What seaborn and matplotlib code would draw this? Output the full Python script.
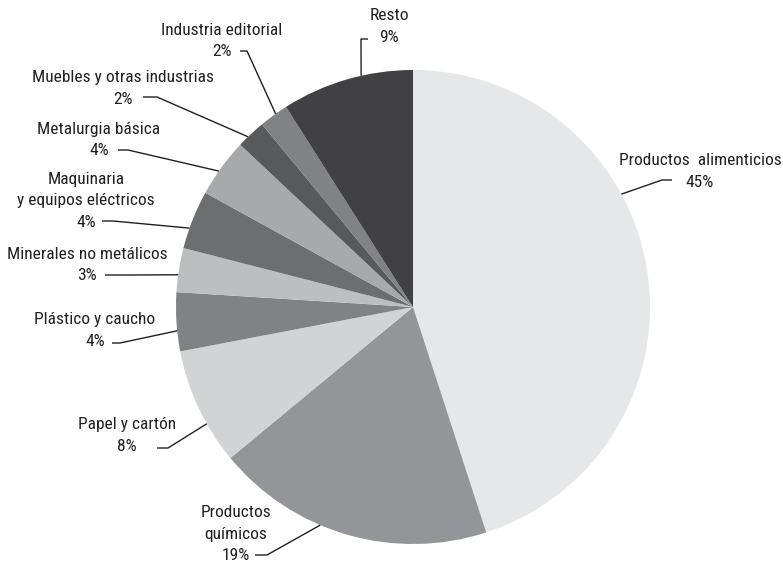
import numpy as np
import matplotlib
matplotlib.use("Agg")
import matplotlib.pyplot as plt
from matplotlib import font_manager
import seaborn as sns

# data
sectores = [
    "Productos  alimenticios",
    "Productos\nquímicos",
    "Papel y cartón",
    "Plástico y caucho",
    "Minerales no metálicos",
    "Maquinaria\ny equipos eléctricos",
    "Metalurgia básica",
    "Muebles y otras industrias",
    "Industria editorial",
    "Resto",
]
porcentajes = [45, 19, 8, 4, 3, 4, 4, 2, 2, 9]
colores = ["#e6e7e8", "#939598", "#d1d3d4", "#808285", "#bcbec0",
           "#6d6e71", "#a7a9ac", "#58595b", "#808285", "#414042"]

# layout (pixel coords of the picture, y from top)
W, H = 783, 565
centro = (413, 307)
radio = 237
texto_pos = [(700, 171.5), (236, 534), (127, 435.5), (95, 330.5), (87, 265),
             (86, 201), (99, 140), (123, 88.5), (222, 41), (389, 26.5)]
# fraction along each wedge where the leader touches the rim
ancla_frac = [0.62, 0.40, 0.65, 0.65, 0.61, 0.65, 0.57, 0.625, 0.42, 0.39]
codo = [(662, 180), (267, 555), (168, 448), (120, 343), (130, 275),
        (113, 221), (128, 150), (157, 97), (247, 51), (361, 39)]
fin = [(672, 180), (255, 555), (157, 448), (112, 343), (105, 275),
       (102, 221), (118, 150), (143, 97), (240, 51), (368, 39)]

sns.set_theme(style="white")
disponibles = {f.name for f in font_manager.fontManager.ttflist}
familia = next((f for f in ["Liberation Sans Narrow", "Roboto Condensed", "Roboto"]
                if f in disponibles), "DejaVu Sans")
plt.rcParams["font.family"] = [familia, "DejaVu Sans"]

fig = plt.figure(figsize=(W / 100, H / 100), dpi=100)
ax = fig.add_axes([0, 0, 1, 1])

wedges, _ = ax.pie(
    porcentajes,
    colors=colores,
    startangle=90,
    counterclock=False,
    center=(centro[0], H - centro[1]),
    radius=radio,
    wedgeprops=dict(linewidth=0),
)

for w, nombre, pct, (tx, ty), f, (kx, ky), (ex, ey) in zip(
        wedges, sectores, porcentajes, texto_pos, ancla_frac, codo, fin):
    ang = np.deg2rad(w.theta1 + f * (w.theta2 - w.theta1))
    ax_ = centro[0] + radio * np.cos(ang)
    ay_ = (H - centro[1]) + radio * np.sin(ang)
    ax.plot([ax_, kx, ex], [ay_, H - ky, H - ey], color="#231f20", lw=1.0,
            solid_capstyle="butt")
    ax.text(tx, H - ty, f"{nombre}\n{pct}%", ha="center", va="center",
            fontsize=12.5, color="#231f20", linespacing=1.55)

ax.set_xlim(0, W)
ax.set_ylim(0, H)
ax.set_aspect("equal")
ax.axis("off")

fig.savefig("out.png", dpi=100)
